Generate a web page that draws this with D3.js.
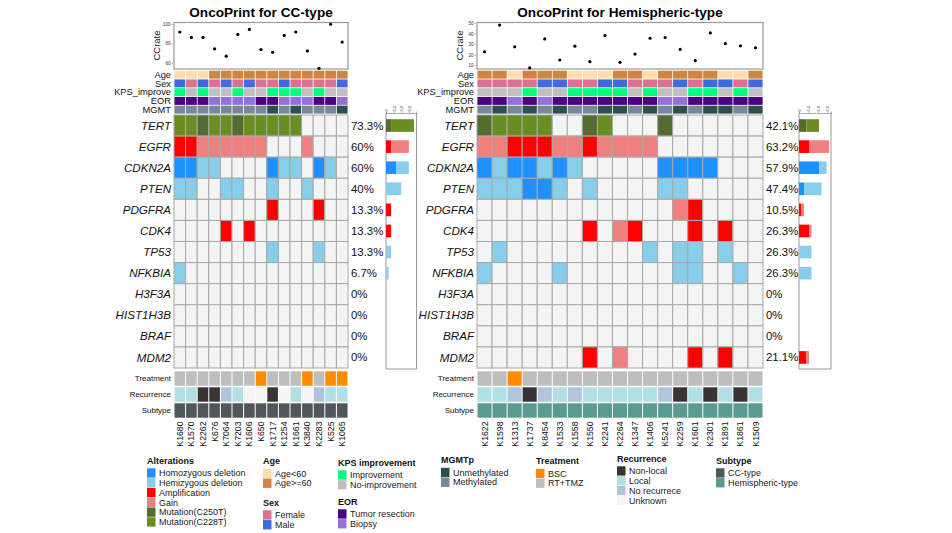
<!DOCTYPE html>
<html><head><meta charset="utf-8">
<script src="https://cdn.jsdelivr.net/npm/d3@7"></script>
<style>body{margin:0;background:#fff}svg{display:block;font-family:"Liberation Sans",Arial,Helvetica,sans-serif}</style>
</head><body><svg id="c" width="952" height="533"></svg>
<script>
// ---------------- DATA ----------------
const genes = ["TERT","EGFR","CDKN2A","PTEN","PDGFRA","CDK4","TP53","NFKBIA","H3F3A","HIST1H3B","BRAF","MDM2"];

const ccSamples = ["K1680","K1570","K2262","K676","K7064","K7203","K1606","K650","K1717","K1254","K1661","K3840","K2283","K525","K1065"];
const hsSamples = ["K1622","K1598","K1313","K1737","K8454","K1533","K1558","K1550","K2241","K2264","K1347","K1406","K5241","K2259","K1601","K2301","K1891","K1861","K1509"];

const ccCCrate = [91.7,86.1,86.1,74.3,66.7,89.2,94.4,73.6,70.8,88.2,91.7,72.2,54.2,99.7,81.3];
const hsCCrate = [22.8,48.1,27.5,7.5,35,15,28.1,13.4,38.1,12.8,20.6,35.6,36.3,25,14.4,40.6,30.6,28.4,26.6];
const ccTicks = [60,80,100];
const hsTicks = [10,20,30,40,50];

// annotations: Age (Y=<60, O=>=60), Sex (F/M), KPS (I/N), EOR (R/B), MGMT (U/M)
const ccAge  = ["Y","Y","Y","O","O","O","O","O","O","O","O","O","O","O","O"];
const ccSex  = ["M","F","M","F","M","F","M","F","F","M","F","F","F","F","M"];
const ccKPS  = ["I","N","I","N","N","I","N","N","I","I","I","N","I","N","N"];
const ccEOR  = ["R","R","R","B","B","B","B","R","R","B","B","B","R","R","B"];
const ccMGMT = ["M","M","M","M","M","M","M","M","U","M","U","M","M","M","U"];

const hsAge  = ["O","O","Y","O","O","O","Y","Y","Y","O","O","Y","O","O","O","O","Y","Y","O"];
const hsSex  = ["F","F","F","F","M","M","F","F","M","M","F","F","F","M","F","M","M","F","M"];
const hsKPS  = ["N","N","N","I","N","N","I","I","I","I","N","I","N","N","I","I","N","I","N"];
const hsEOR  = ["R","R","B","R","B","R","R","R","R","R","R","R","B","B","R","R","R","R","R"];
const hsMGMT = ["M","U","M","U","M","U","M","M","U","U","M","U","M","U","M","U","U","M","U"];

// bottom tracks: Treatment (BSC / RT), Recurrence (NL, L, NR, UK), Subtype
const ccTreat = ["RT","RT","RT","RT","RT","RT","RT","BSC","RT","RT","RT","BSC","RT","BSC","BSC"];
const ccRecur = ["L","L","NL","NL","NR","L","UK","UK","NL","UK","L","UK","NR","L","L"];
const hsTreat = ["RT","RT","BSC","RT","RT","RT","RT","RT","RT","RT","RT","RT","RT","RT","RT","RT","RT","RT","RT"];
const hsRecur = ["L","L","NR","NL","NR","L","NR","L","L","L","L","L","NR","NL","L","NL","L","NL","L"];

// alterations: hom=Homozygous deletion, het=Hemizygous deletion, amp, gain, c250=C250T, c228=C228T, "" none
const _ = "";
const ccMatrix = {
  TERT:    ["c228","c228","c250","c228","c228","c250","c228","c228","c228","c228","c228",_,_,_,_],
  EGFR:    ["amp","amp","gain","gain","gain","gain","gain","gain",_,_,_,"gain",_,_,_],
  CDKN2A:  ["hom","hom","het","het",_,_,_,_,"hom","het","het",_,"hom","het",_],
  PTEN:    ["het","het",_,_,"het","het",_,_,"het",_,_,"het",_,_,_],
  PDGFRA:  [_,_,_,_,_,_,_,_,"amp",_,_,_,"amp",_,_],
  CDK4:    [_,_,_,_,"amp",_,"amp",_,_,_,_,_,_,_,_],
  TP53:    [_,_,_,_,_,_,_,_,"het",_,_,_,"het",_,_],
  NFKBIA:  ["het",_,_,_,_,_,_,_,_,_,_,_,_,_,_],
  H3F3A:   [_,_,_,_,_,_,_,_,_,_,_,_,_,_,_],
  HIST1H3B:[_,_,_,_,_,_,_,_,_,_,_,_,_,_,_],
  BRAF:    [_,_,_,_,_,_,_,_,_,_,_,_,_,_,_],
  MDM2:    [_,_,_,_,_,_,_,_,_,_,_,_,_,_,_]
};
const hsMatrix = {
  TERT:    ["c250","c228","c228","c228","c228",_,_,"c250","c228",_,_,_,"c250",_,_,_,_,_,_],
  EGFR:    ["gain","gain","amp","amp","amp","gain","gain","amp","gain","gain","gain","gain",_,_,_,_,_,_,_],
  CDKN2A:  ["hom","het","hom","hom","het","hom","het",_,_,_,_,_,"hom","hom","hom","hom",_,_,_],
  PTEN:    ["het","het","het","hom","hom","het",_,"het",_,_,_,_,"het","het",_,_,_,_,_],
  PDGFRA:  [_,_,_,_,_,_,_,_,_,_,_,_,_,"gain","amp",_,_,_,_],
  CDK4:    [_,_,_,_,_,_,_,"amp",_,"gain","amp",_,_,_,"amp",_,"amp",_,_],
  TP53:    [_,"het",_,_,_,_,_,_,_,_,_,"het",_,"het","het",_,"het",_,_],
  NFKBIA:  ["het",_,_,_,_,"het",_,_,_,_,_,_,_,"het","het",_,_,"het",_],
  H3F3A:   [_,_,_,_,_,_,_,_,_,_,_,_,_,_,_,_,_,_,_],
  HIST1H3B:[_,_,_,_,_,_,_,_,_,_,_,_,_,_,_,_,_,_,_],
  BRAF:    [_,_,_,_,_,_,_,_,_,_,_,_,_,_,_,_,_,_,_],
  MDM2:    [_,_,_,_,_,_,_,"amp",_,"gain",_,_,_,_,"amp",_,"amp",_,_]
};
const barTicks = [0,0.2,0.4,0.6];

// ---------------- STYLES ----------------
const altColor = {hom:"#1E90FF",het:"#87CEEB",amp:"#FF0000",gain:"#F08080",c250:"#556B2F",c228:"#6B8E23"};
const altOrder = ["hom","het","amp","gain","c250","c228"];
const ageColor = {Y:"#FFDEAD",O:"#CD853F"};
const sexColor = {F:"#DB7093",M:"#4169E1"};
const kpsColor = {I:"#00FF7F",N:"#C0C0C0"};
const eorColor = {R:"#4B0082",B:"#9370DB"};
const mgmtColor = {U:"#2F4F4F",M:"#778899"};
const treatColor = {BSC:"#FF8C00",RT:"#BEBEBE"};
const recurColor = {NL:"#3A3333",L:"#B0E0E6",NR:"#B0C4DE",UK:"#F5F5F5"};
const subColor = {CC:"#50575A",HS:"#5A9A8F"};

const svg = d3.select("#c");
svg.append("rect").attr("width",952).attr("height",533).attr("fill","#fff");

const gridTop = 115, gridBot = 368;
const yRow = d3.scaleBand().domain(genes).range([gridTop, gridBot]);

function drawPanel(cfg){
  const g = svg.append("g");
  const n = cfg.samples.length;
  const x = d3.scaleBand().domain(cfg.samples).range([cfg.x0, cfg.x1]);
  const bw = x.bandwidth();
  const cx = s => x(s) + bw/2;

  // title
  g.append("text").attr("x",(cfg.x0+cfg.x1)/2).attr("y",17).attr("text-anchor","middle")
    .attr("font-weight","bold").attr("font-size",13.6).text(cfg.title);

  // CCrate
  const ccY = d3.scaleLinear().domain(cfg.ccDomain).range([69, 22.5]);
  g.append("rect").attr("x",cfg.x0).attr("y",22.5).attr("width",cfg.x1-cfg.x0).attr("height",46.5)
    .attr("fill","none").attr("stroke","#999").attr("stroke-width",1.2);
  const ax = g.append("g").attr("transform",`translate(${cfg.x0-1},0)`)
    .call(d3.axisLeft(ccY).tickValues(cfg.ccTicks).tickSize(1.5).tickPadding(1));
  ax.select(".domain").remove();
  ax.selectAll("text").attr("font-size",4.5).attr("fill","#333").attr("font-family","Liberation Sans, Arial, sans-serif");
  ax.selectAll("line").attr("stroke","#555").attr("stroke-width",0.5);
  g.append("text").attr("transform",`translate(${cfg.x0-14},45.5) rotate(-90)`).attr("text-anchor","middle")
    .attr("font-size",9.5).attr("fill","#222").text("CCrate");
  g.selectAll(".pt").data(cfg.samples).enter().append("circle")
    .attr("cx",cx).attr("cy",(s,i)=>ccY(cfg.ccrate[i])).attr("r",1.6).attr("fill","#000");

  // annotation rows
  const annRows = [["Age",cfg.age,ageColor],["Sex",cfg.sex,sexColor],["KPS_improve",cfg.kps,kpsColor],["EOR",cfg.eor,eorColor],["MGMT",cfg.mgmt,mgmtColor]];
  const annY = d3.scaleBand().domain(annRows.map(r=>r[0])).range([70.3, 114]);
  annRows.forEach(([name, vals, cmap])=>{
    g.selectAll(null).data(cfg.samples).enter().append("rect")
      .attr("x",s=>x(s)+0.4).attr("y",annY(name)+0.4).attr("width",bw-0.8).attr("height",annY.bandwidth()-0.8)
      .attr("fill",(s,i)=>cmap[vals[i]]);
    g.append("text").attr("x",cfg.x0-3).attr("y",annY(name)+annY.bandwidth()/2).attr("dy","0.35em")
      .attr("text-anchor","end").attr("font-size",9.3).attr("fill","#111").text(name);
  });

  // oncoprint grid
  genes.forEach(gene=>{
    const vals = cfg.matrix[gene];
    g.selectAll(null).data(cfg.samples).enter().append("rect")
      .attr("x",s=>x(s)).attr("y",yRow(gene)).attr("width",bw).attr("height",yRow.bandwidth())
      .attr("fill",(s,i)=> vals[i] ? altColor[vals[i]] : "#F4F4F4")
      .attr("stroke","#A8A8A8").attr("stroke-width",1);
    g.append("text").attr("x",cfg.x0-3).attr("y",yRow(gene)+yRow.bandwidth()/2).attr("dy","0.35em")
      .attr("text-anchor","end").attr("font-style","italic").attr("font-size",11.6).attr("fill","#111").text(gene);
    const cnt = vals.filter(v=>v).length;
    g.append("text").attr("x",cfg.pctX).attr("y",yRow(gene)+yRow.bandwidth()/2).attr("dy","0.35em")
      .attr("font-size",11.4).attr("fill","#111").text((+(cnt/n*100).toFixed(1))+"%");
  });

  // barplot
  const bx = d3.scaleLinear().domain([0,cfg.barMax]).range([cfg.bx0, cfg.bx1]);
  const bb = g.append("g");
  bb.append("path").attr("d",`M${cfg.bx0},113V369H${cfg.bx1}V113`).attr("fill","none").attr("stroke","#999").attr("stroke-width",1);
  const bax = bb.append("g").attr("transform","translate(0,113)").call(d3.axisTop(bx).tickValues(barTicks).tickSize(1.5).tickPadding(1).tickFormat(d3.format("")));
  bax.select(".domain").attr("stroke","#777").attr("stroke-width",0.6);
  bax.selectAll("line").attr("stroke","#777").attr("stroke-width",0.5);
  bax.selectAll("text").attr("font-size",4).attr("fill","#333").attr("text-anchor","start")
    .attr("transform","rotate(-90)").attr("x",1.5).attr("y",0).attr("dy","0.35em");
  const bh = yRow.bandwidth()*0.6;
  genes.forEach(gene=>{
    const vals = cfg.matrix[gene];
    let acc = 0;
    altOrder.forEach(t=>{
      const c = vals.filter(v=>v===t).length;
      if(!c) return;
      const v = c/n;
      bb.append("rect").attr("x",bx(acc)).attr("y",yRow(gene)+(yRow.bandwidth()-bh)/2)
        .attr("width",bx(acc+v)-bx(acc)).attr("height",bh).attr("fill",altColor[t]);
      acc += v;
    });
  });

  // bottom tracks
  const botRows = [["Treatment",cfg.treat,treatColor],["Recurrence",cfg.recur,recurColor],["Subtype",cfg.samples.map(()=>cfg.subtype),subColor]];
  const botY = d3.scaleBand().domain(botRows.map(r=>r[0])).range([370.5, 418.5]);
  botRows.forEach(([name, vals, cmap])=>{
    g.selectAll(null).data(cfg.samples).enter().append("rect")
      .attr("x",s=>x(s)+0.5).attr("y",botY(name)+0.8).attr("width",bw-1).attr("height",botY.bandwidth()-1.6)
      .attr("fill",(s,i)=>cmap[vals[i]]);
    g.append("text").attr("x",cfg.x0-3).attr("y",botY(name)+botY.bandwidth()/2).attr("dy","0.35em")
      .attr("text-anchor","end").attr("font-size",8).attr("fill","#111").text(name);
  });

  // sample labels
  g.selectAll(".sl").data(cfg.samples).enter().append("text")
    .attr("transform",s=>`translate(${cx(s)},421.5) rotate(-90)`).attr("text-anchor","end").attr("dy","0.35em")
    .attr("font-size",8.7).attr("fill","#111").text(s=>s);
}

drawPanel({title:"OncoPrint for CC-type",samples:ccSamples,x0:174,x1:348,ccrate:ccCCrate,ccDomain:[53.5,101.5],ccTicks:ccTicks,
  age:ccAge,sex:ccSex,kps:ccKPS,eor:ccEOR,mgmt:ccMGMT,matrix:ccMatrix,pctX:351,bx0:386,bx1:416.5,barMax:0.8,
  treat:ccTreat,recur:ccRecur,subtype:"CC"});
drawPanel({title:"OncoPrint for Hemispheric-type",samples:hsSamples,x0:477,x1:763,ccrate:hsCCrate,ccDomain:[6.5,50.5],ccTicks:hsTicks,
  age:hsAge,sex:hsSex,kps:hsKPS,eor:hsEOR,mgmt:hsMGMT,matrix:hsMatrix,pctX:766,bx0:799,bx1:831,barMax:0.674,
  treat:hsTreat,recur:hsRecur,subtype:"HS"});

// ---------------- LEGENDS ----------------
function legend(x, ty, title, items){
  const g = svg.append("g");
  g.append("text").attr("x",x).attr("y",ty).attr("font-weight","bold").attr("font-size",9).attr("fill","#111").text(title);
  items.forEach(([lab,col],i)=>{
    const top = ty+4.8+i*9.8;
    g.append("rect").attr("x",x).attr("y",top).attr("width",8.5).attr("height",9.3).attr("fill",col);
    g.append("text").attr("x",x+12).attr("y",top+4.7).attr("dy","0.35em").attr("font-size",9).attr("fill","#222").text(lab);
  });
}
legend(147,463.5,"Alterations",[["Homozygous deletion",altColor.hom],["Hemizygous deletion",altColor.het],["Amplification",altColor.amp],["Gain",altColor.gain],["Mutation(C250T)",altColor.c250],["Mutation(C228T)",altColor.c228]]);
legend(263,464,"Age",[["Age<60",ageColor.Y],["Age>=60",ageColor.O]]);
legend(263,505.5,"Sex",[["Female",sexColor.F],["Male",sexColor.M]]);
legend(338,465.5,"KPS improvement",[["Improvement",kpsColor.I],["No-improvement",kpsColor.N]]);
legend(338,504.5,"EOR",[["Tumor resection",eorColor.R],["Biopsy",eorColor.B]]);
legend(441,463,"MGMTp",[["Unmethylated",mgmtColor.U],["Methylated",mgmtColor.M]]);
legend(536,464,"Treatment",[["BSC",treatColor.BSC],["RT+TMZ",treatColor.RT]]);
legend(617,461.5,"Recurrence",[["Non-local",recurColor.NL],["Local",recurColor.L],["No recurrece",recurColor.NR],["Unknown",recurColor.UK]]);
legend(716,463.5,"Subtype",[["CC-type",subColor.CC],["Hemispheric-type",subColor.HS]]);
</script></body></html>
